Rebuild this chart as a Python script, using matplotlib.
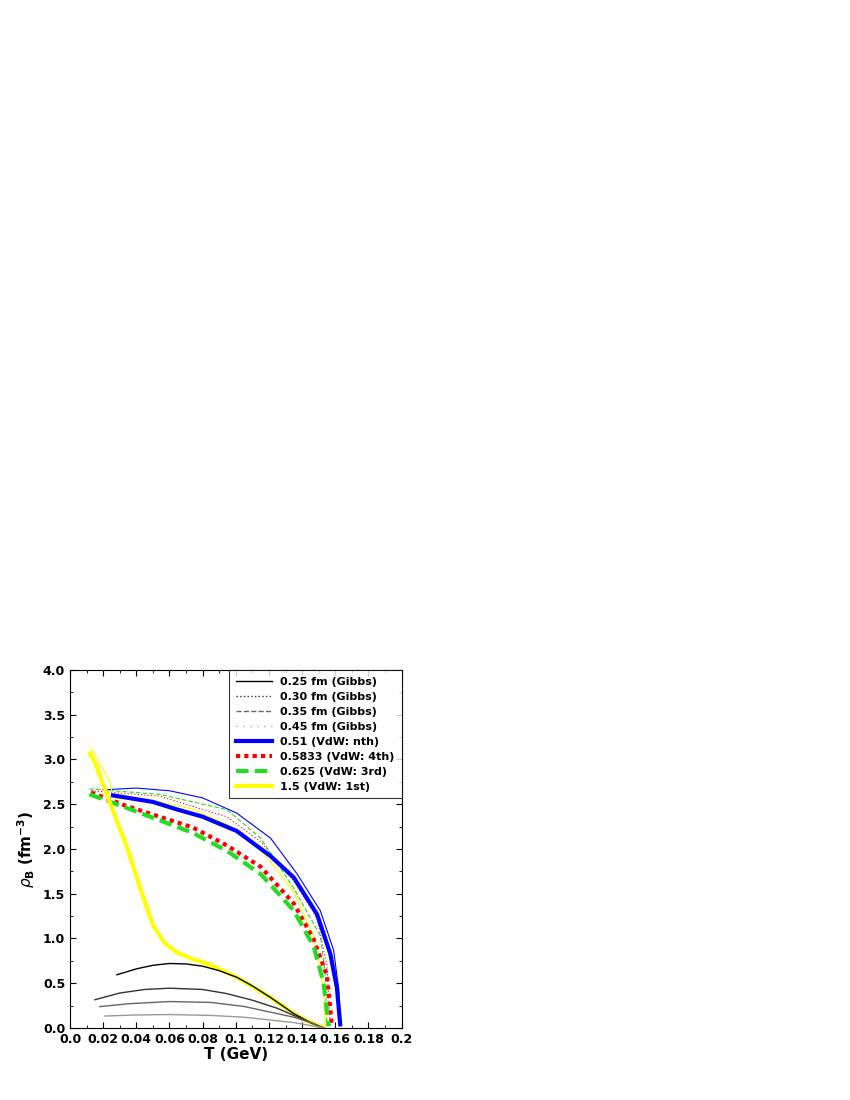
import numpy as np
import matplotlib
matplotlib.use("Agg")
from matplotlib import pyplot as plt
from matplotlib.ticker import MultipleLocator

# Gibbs curves (T in GeV, rho_B in fm^-3)
t_025 = [0.0283, 0.04, 0.05, 0.060, 0.070, 0.080, 0.090, 0.1006, 0.110, 0.121, 0.135, 0.145, 0.153]
r_025 = [0.594, 0.66, 0.70, 0.72, 0.715, 0.69, 0.64, 0.566, 0.47, 0.34, 0.16, 0.06, 0.0]
t_030 = [0.015, 0.03, 0.045, 0.060, 0.080, 0.0945, 0.110, 0.125, 0.140, 0.153]
r_030 = [0.315, 0.39, 0.43, 0.444, 0.43, 0.384, 0.31, 0.22, 0.10, 0.0]
t_035 = [0.018, 0.035, 0.060, 0.085, 0.105, 0.120, 0.135, 0.145, 0.153]
r_035 = [0.238, 0.27, 0.295, 0.285, 0.24, 0.18, 0.12, 0.06, 0.0]
t_045 = [0.021, 0.04, 0.060, 0.085, 0.105, 0.120, 0.135, 0.153]
r_045 = [0.133, 0.145, 0.15, 0.14, 0.12, 0.09, 0.06, 0.0]

# VdW curves: thick and thin companions
t_b = [0.0259, 0.050, 0.064, 0.080, 0.1006, 0.121, 0.135, 0.149, 0.157, 0.161, 0.163]
r_b = [2.598, 2.525, 2.444, 2.36, 2.2, 1.92, 1.68, 1.27, 0.83, 0.45, 0.04]
t_b2 = [0.0198, 0.040, 0.060, 0.080, 0.1006, 0.121, 0.137, 0.151, 0.159, 0.162, 0.163]
r_b2 = [2.66, 2.68, 2.65, 2.57, 2.40, 2.12, 1.72, 1.31, 0.87, 0.45, 0.04]
t_r = [0.0127, 0.034, 0.054, 0.074, 0.0945, 0.115, 0.135, 0.147, 0.155, 0.158]
r_r = [2.63, 2.48, 2.36, 2.24, 2.04, 1.80, 1.39, 0.99, 0.586, 0.02]
t_r2 = [0.0127, 0.054, 0.0945, 0.115, 0.135, 0.149, 0.155, 0.157]
r_r2 = [2.65, 2.59, 2.36, 2.08, 1.64, 1.23, 0.7, 0.02]
t_g = [0.0117, 0.034, 0.054, 0.074, 0.0945, 0.115, 0.135, 0.147, 0.153, 0.156]
r_g = [2.61, 2.46, 2.32, 2.18, 1.98, 1.72, 1.31, 0.91, 0.5, 0.02]
t_g2 = [0.0117, 0.054, 0.0945, 0.115, 0.135, 0.151, 0.154, 0.155]
r_g2 = [2.67, 2.61, 2.44, 2.12, 1.56, 1.03, 0.6, 0.02]
t_y = [0.0121, 0.0158, 0.0238, 0.034, 0.044, 0.050, 0.057, 0.064, 0.074, 0.0844,
       0.1006, 0.121, 0.135, 0.145, 0.153]
r_y = [3.07, 2.93, 2.53, 2.04, 1.47, 1.15, 0.95, 0.85, 0.77, 0.707,
       0.566, 0.34, 0.16, 0.06, 0.0]
t_y2 = [0.0127, 0.0198, 0.0238, 0.026, 0.054, 0.074, 0.0945, 0.115, 0.135, 0.147, 0.153, 0.154]
r_y2 = [3.13, 2.89, 2.77, 2.57, 2.525, 2.444, 2.28, 2.0, 1.52, 1.03, 0.42, 0.02]

labels = ["0.25 fm (Gibbs)", "0.30 fm (Gibbs)", "0.35 fm (Gibbs)", "0.45 fm (Gibbs)",
          "0.51 (VdW: nth)", "0.5833 (VdW: 4th)", "0.625 (VdW: 3rd)", "1.5 (VdW: 1st)"]
xtick_labels = ['0.0', '0.02', '0.04', '0.06', '0.08', '0.1', '0.12', '0.14',
                '0.16', '0.18', '0.2']

fig = plt.figure(figsize=(8.5, 11), dpi=100)
ax = fig.add_axes([0.0824, 0.0655, 0.39, 0.3255])

ax.plot(t_b2, r_b2, color='blue', lw=0.8)
ax.plot(t_r2, r_r2, color='red', lw=0.8, ls=(0, (1, 2)))
ax.plot(t_g2, r_g2, color='#22dd22', lw=0.8, ls=(0, (4, 2)))
ax.plot(t_y2, r_y2, color='yellow', lw=0.8)

h_b = ax.plot(t_b, r_b, color='blue', lw=3)[0]
h_r = ax.plot(t_r, r_r, color='red', lw=3, ls=(0, (1, 1)))[0]
h_g = ax.plot(t_g, r_g, color='#22dd22', lw=3, ls=(0, (3, 1.5)))[0]
h_y = ax.plot(t_y, r_y, color='yellow', lw=3)[0]

# Gibbs lines drawn on top of the yellow one
h_025 = ax.plot(t_025, r_025, color='black', lw=1.0)[0]
h_030 = ax.plot(t_030, r_030, color='#333333', lw=1.0)[0]
h_035 = ax.plot(t_035, r_035, color='#666666', lw=1.0)[0]
h_045 = ax.plot(t_045, r_045, color='#999999', lw=1.0)[0]

handles = [h_025, h_030, h_035, h_045, h_b, h_r, h_g, h_y]
leg = ax.legend(handles, labels, loc='upper right', frameon=True,
                fancybox=False, edgecolor='black', borderaxespad=0, handlelength=3.2,
                labelspacing=0.45, borderpad=0.6, prop={'weight': 'bold', 'size': 8})
leg.get_frame().set_linewidth(0.8)
styles = ['-', ':', '--', (0, (1, 4))]
greys = ['black', '#333333', '#666666', '#aaaaaa']
for line, st, c in zip(leg.get_lines()[:4], styles, greys):
    line.set_linestyle(st)
    line.set_color(c)

ax.set_xlim(0, 0.2)
ax.set_ylim(0, 4.0)
ax.set_xticks(np.arange(0, 0.2001, 0.02))
ax.set_xticklabels(xtick_labels)
ax.xaxis.set_minor_locator(MultipleLocator(0.01))
ax.set_yticks(np.arange(0, 4.001, 0.5))
ax.set_yticklabels(['%.1f' % v for v in np.arange(0, 4.001, 0.5)])
ax.yaxis.set_minor_locator(MultipleLocator(0.25))
ax.tick_params(which='both', direction='in', top=True, right=True, labelsize=9)
ax.tick_params(which='major', length=4)
ax.tick_params(which='minor', length=2)
for lab in ax.get_xticklabels() + ax.get_yticklabels():
    lab.set_fontweight('bold')
ax.set_xlabel('T (GeV)', fontsize=11, fontweight='bold', labelpad=1)
ax.set_ylabel(r'$\rho_\mathbf{B}$ $\mathbf{(fm^{-3})}$', fontsize=11, labelpad=4)

fig.savefig('out.png', dpi=100)
